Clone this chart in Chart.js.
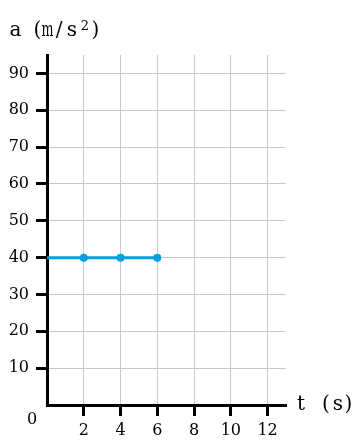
<!DOCTYPE html>
<html>
<head>
<meta charset="utf-8">
<script src="https://cdn.jsdelivr.net/npm/chart.js@4"></script>
<style>
  html, body { margin: 0; padding: 0; background: #fff; }
  #wrap { width: 360px; height: 448px; }
</style>
</head>
<body>
<div id="wrap"><canvas id="chart" width="360" height="448"></canvas></div>
<script>
// Data
const times = [0, 2, 4, 6];          // t (s)
const accel = [40, 40, 40, 40];      // a (m/s^2)
const xTicks = [2, 4, 6, 8, 10, 12];
const yTicks = [10, 20, 30, 40, 50, 60, 70, 80, 90];

const lineColor = '#00a0e3';
const serif = "'DejaVu Serif', serif";

// Axis titles and the origin "0", drawn char by char to mimic a monospace serif
const axisText = {
  id: 'axisText',
  afterDraw(chart) {
    const ctx = chart.ctx;
    const area = chart.chartArea;
    ctx.save();
    ctx.fillStyle = '#000';
    ctx.textAlign = 'center';
    ctx.textBaseline = 'alphabetic';
    // squeeze wide glyphs (like m) into a fixed cell
    const put = (chars, base) => chars.forEach(([c, x]) => {
      const w = ctx.measureText(c).width;
      const k = w > 12 ? 12 / w : 1;
      ctx.save();
      ctx.translate(x, base);
      ctx.scale(k, 1);
      ctx.fillText(c, 0, 0);
      ctx.restore();
    });
    ctx.font = '20px ' + serif;
    put([['a', 15.5], ['(', 37.5], ['m', 47.5], ['/', 59], ['s', 72], [')', 95.5]], 36);
    ctx.font = '13px ' + serif;
    ctx.fillText('2', 85, 30);
    ctx.font = '20px ' + serif;
    put([['t', 301], ['(', 326], ['s', 338], [')', 348.5]], 410);
    ctx.font = '16px ' + serif;
    ctx.textBaseline = 'middle';
    ctx.fillText('0', 32, area.bottom + 15);
    ctx.restore();
  }
};

const hideZero = c => (c.tick && c.tick.value === 0) ? 'rgba(0,0,0,0)' : '#000';

new Chart(document.getElementById('chart'), {
  type: 'line',
  data: {
    datasets: [{
      data: times.map((t, i) => ({ x: t, y: accel[i] })),
      borderColor: lineColor,
      backgroundColor: lineColor,
      borderWidth: 3,
      pointRadius: c => c.dataIndex === 0 ? 0 : 4,
      pointHoverRadius: 4,
      pointBorderWidth: 0,
      clip: false
    }]
  },
  options: {
    responsive: false,
    animation: false,
    events: [],
    layout: { padding: { top: 55, right: 74, left: 0, bottom: 0 } },
    plugins: { legend: { display: false }, tooltip: { enabled: false } },
    scales: {
      x: {
        type: 'linear',
        min: 0,
        max: 13,
        afterFit: s => { s.height = 43; },
        afterBuildTicks: s => { s.ticks = [0].concat(xTicks).map(v => ({ value: v })); },
        ticks: {
          includeBounds: false,
          callback: v => v === 0 ? '' : v,
          color: '#000',
          font: { family: serif, size: 16 },
          padding: 5,
          maxRotation: 0,
          autoSkip: false
        },
        grid: {
          color: '#c8c8c8',
          lineWidth: 1,
          tickColor: hideZero,
          tickLength: 11,
          tickWidth: 3
        },
        border: { color: '#000', width: 3 }
      },
      y: {
        min: 0,
        max: 95,
        afterFit: s => { s.width = 47; },
        afterBuildTicks: s => { s.ticks = [0].concat(yTicks).map(v => ({ value: v })); },
        ticks: {
          includeBounds: false,
          callback: v => v === 0 ? '' : v,
          color: '#000',
          font: { family: serif, size: 16 },
          padding: 7,
          autoSkip: false
        },
        grid: {
          color: '#c8c8c8',
          lineWidth: 1,
          tickColor: hideZero,
          tickLength: 11,
          tickWidth: 3
        },
        border: { color: '#000', width: 3 }
      }
    }
  },
  plugins: [axisText]
});
</script>
</body>
</html>
